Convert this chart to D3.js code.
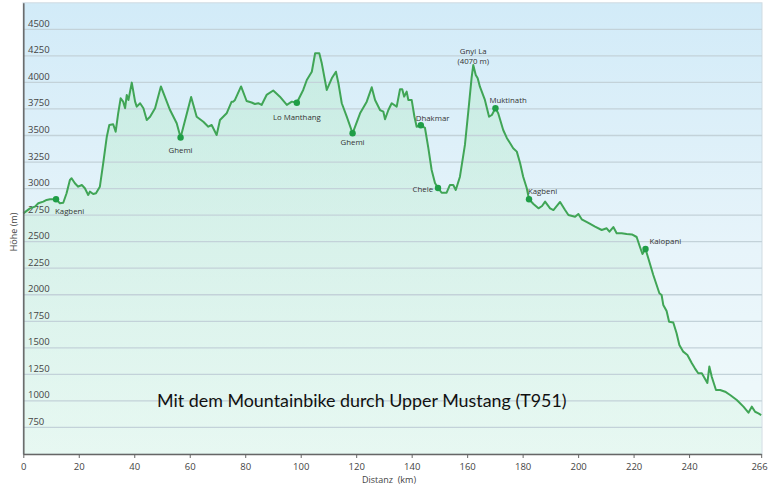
<!DOCTYPE html>
<html>
<head>
<meta charset="utf-8">
<script src="https://cdn.jsdelivr.net/npm/d3@7"></script>
<style>
  html, body { margin: 0; padding: 0; background: #fff; }
  svg text { font-family: "Open Sans", "Noto Sans", sans-serif; }
</style>
</head>
<body>
<div id="chart"></div>
<script>
// profile: distance (km) and elevation (m)
var distKm = [0, 2.4, 4.2, 5.4, 7.2, 8.4, 9.6, 11.8, 13.2, 14.4, 15.6, 16.8, 17.4, 18.6, 19.8, 21.1, 22.2, 23.4, 24.0, 25.2, 26.2, 27.6, 28.8, 30.1, 31.0, 32.4, 33.3, 34.2, 35.1, 36.0, 36.7, 37.3, 37.9, 39.1, 40.3, 40.9, 42.1, 43.3, 44.5, 45.7, 47.5, 49.6, 52.9, 55.3, 56.7, 60.5, 62.5, 64.9, 66.7, 67.9, 69.7, 70.9, 73.3, 75.1, 75.7, 76.3, 78.5, 80.5, 82.3, 83.5, 84.7, 85.9, 87.7, 90.1, 92.5, 95.0, 96.8, 98.6, 100.9, 102.2, 104.0, 105.2, 106.7, 107.6, 109.4, 111.2, 112.7, 113.6, 114.8, 116.6, 118.7, 121.4, 123.8, 125.6, 126.8, 128.6, 129.8, 130.4, 131.6, 132.8, 134.6, 135.8, 136.6, 137.3, 138.2, 138.8, 140.0, 141.0, 141.8, 143.3, 144.8, 146.0, 147.2, 148.4, 149.5, 150.8, 152.6, 153.8, 155.0, 155.9, 157.4, 159.2, 160.4, 161.6, 162.2, 163.1, 163.8, 164.6, 166.4, 167.9, 168.9, 170.2, 171.2, 173.0, 174.3, 175.5, 176.6, 177.9, 179.1, 180.2, 181.5, 182.3, 183.9, 185.7, 187.0, 188.1, 189.9, 191.1, 193.5, 195.3, 196.5, 198.9, 200.1, 201.3, 203.7, 206.1, 208.5, 210.3, 211.3, 212.7, 213.9, 215.7, 217.5, 219.4, 221.1, 222.3, 223.2, 224.3, 225.3, 227.1, 229.3, 230.1, 230.7, 231.9, 232.8, 234.3, 235.5, 236.5, 237.9, 239.4, 241.0, 242.1, 243.3, 244.6, 246.6, 247.3, 248.2, 249.7, 251.2, 253.0, 254.8, 257.2, 259.6, 261.4, 262.6, 263.8, 265.0, 266.0];
var elevM = [2767, 2814, 2830, 2862, 2877, 2893, 2899, 2899, 2862, 2867, 2956, 3081, 3097, 3050, 3018, 3034, 3003, 2940, 2971, 2949, 2956, 3018, 3238, 3489, 3599, 3606, 3536, 3709, 3851, 3819, 3757, 3882, 3835, 3998, 3819, 3772, 3804, 3757, 3646, 3677, 3757, 3962, 3740, 3615, 3481, 3863, 3677, 3630, 3583, 3599, 3505, 3646, 3709, 3819, 3819, 3835, 3962, 3825, 3811, 3797, 3804, 3788, 3882, 3924, 3866, 3788, 3819, 3809, 3929, 4023, 4101, 4275, 4275, 4180, 3929, 4039, 4101, 3992, 3804, 3677, 3521, 3709, 3819, 3954, 3835, 3740, 3724, 3653, 3740, 3804, 3772, 3936, 3936, 3866, 3913, 3835, 3835, 3677, 3583, 3596, 3571, 3383, 3175, 3053, 3006, 2961, 2961, 3034, 3034, 2987, 3112, 3411, 3722, 4042, 4164, 4070, 4039, 3960, 3835, 3677, 3693, 3757, 3709, 3552, 3477, 3427, 3380, 3348, 3238, 3112, 3003, 2899, 2855, 2814, 2836, 2877, 2814, 2798, 2874, 2798, 2751, 2735, 2761, 2711, 2676, 2641, 2610, 2626, 2594, 2638, 2579, 2579, 2572, 2568, 2544, 2450, 2384, 2431, 2343, 2186, 2014, 1998, 1904, 1847, 1746, 1739, 1637, 1527, 1464, 1433, 1354, 1307, 1260, 1260, 1169, 1324, 1225, 1103, 1103, 1087, 1056, 1009, 946, 889, 946, 898, 883, 867];

// waypoints
var placeNames = ["Kagbeni", "Ghemi", "Lo Manthang", "Ghemi", "Dhakmar", "Chele", "Muktinath", "Kagbeni", "Kalopani"];
var placeKm = [11.8, 56.7, 98.6, 118.7, 143.3, 149.5, 170.2, 182.3, 224.3];
var placeM = [2899, 3481, 3809, 3521, 3596, 3006, 3757, 2899, 2431];

var peakName = ["Gnyi La", "(4070 m)"];
var peakKm = 162.2;
var peakM = 4164;

var xTicks = [0, 20, 40, 60, 80, 100, 120, 140, 160, 180, 200, 220, 240, 266];
var yTicks = [750, 1000, 1250, 1500, 1750, 2000, 2250, 2500, 2750, 3000, 3250, 3500, 3750, 4000, 4250, 4500];

var title = "Mit dem Mountainbike durch Upper Mustang (T951)";
var xTitle = "Distanz  (km)";
var yTitle = "Höhe (m)";

// label placement for each waypoint: anchor, dx, dy
var labelPos = [
  ["start", -1, 15], ["middle", 0, 15], ["middle", 0, 17], ["middle", 0, 12],
  ["start", -5, -4], ["end", -5, 4], ["start", -6, -5], ["start", -1, -5], ["start", 4, -5]
];

var W = 768, H = 490;
var x = d3.scaleLinear().domain([0, 266]).range([23.3, 761.2]);
var y = d3.scaleLinear().domain([500, 4750]).range([454, 2.8]);

var svg = d3.select("#chart").append("svg")
  .attr("width", W).attr("height", H);

var defs = svg.append("defs");
var bg = defs.append("linearGradient").attr("id", "bg")
  .attr("x1", 0).attr("y1", 0).attr("x2", 0).attr("y2", 1);
bg.append("stop").attr("offset", "0%").attr("stop-color", "#d2ebf8");
bg.append("stop").attr("offset", "55%").attr("stop-color", "#e7f4fa");
bg.append("stop").attr("offset", "100%").attr("stop-color", "#f0fafa");

var fillG = defs.append("linearGradient").attr("id", "fillG")
  .attr("gradientUnits", "userSpaceOnUse")
  .attr("x1", 0).attr("y1", y(4300)).attr("x2", 0).attr("y2", y(500));
fillG.append("stop").attr("offset", "0%").attr("stop-color", "#b4eac9").attr("stop-opacity", 0.45);
fillG.append("stop").attr("offset", "100%").attr("stop-color", "#dcf6e8").attr("stop-opacity", 0.45);

// plot background
svg.append("rect")
  .attr("x", 23).attr("y", 2.8)
  .attr("width", 762 - 23).attr("height", 454 - 2.8)
  .attr("fill", "url(#bg)")
  .attr("stroke", "#cfdbe2").attr("stroke-width", 1);

var data = distKm.map(function (d, i) { return { km: d, m: elevM[i] }; });

// area under profile
var area = d3.area()
  .x(function (d) { return x(d.km); })
  .y0(y(500))
  .y1(function (d) { return y(d.m); });

svg.append("path")
  .datum(data)
  .attr("d", area)
  .attr("fill", "url(#fillG)");

// gridlines
svg.append("g").attr("class", "grid")
  .selectAll("line")
  .data(yTicks)
  .enter()
  .append("line")
  .attr("x1", 23).attr("x2", 762)
  .attr("y1", function (d) { return y(d); })
  .attr("y2", function (d) { return y(d); })
  .attr("stroke", "#c3d2d9")
  .attr("stroke-width", 1.3);

// y tick labels sit inside the plot, just above each gridline
svg.append("g")
  .selectAll("text")
  .data(yTicks)
  .enter()
  .append("text")
  .attr("x", 28)
  .attr("y", function (d) { return y(d) - 2.5; })
  .attr("font-size", "9.5px")
  .attr("fill", "#444")
  .text(function (d) { return d; });

// profile line
var line = d3.line()
  .x(function (d) { return x(d.km); })
  .y(function (d) { return y(d.m); });

svg.append("path")
  .datum(data)
  .attr("d", line)
  .attr("fill", "none")
  .attr("stroke", "#40a556")
  .attr("stroke-width", 2)
  .attr("stroke-linejoin", "round");

// waypoint markers and names
var places = placeNames.map(function (n, i) {
  return { name: n, km: placeKm[i], m: placeM[i], pos: labelPos[i] };
});

svg.append("g")
  .selectAll("circle")
  .data(places)
  .enter()
  .append("circle")
  .attr("cx", function (d) { return x(d.km); })
  .attr("cy", function (d) { return y(d.m); })
  .attr("r", 3.2)
  .attr("fill", "#1f9e47");

svg.append("g")
  .selectAll("text")
  .data(places)
  .enter()
  .append("text")
  .attr("x", function (d) { return x(d.km) + d.pos[1]; })
  .attr("y", function (d) { return y(d.m) + d.pos[2]; })
  .attr("text-anchor", function (d) { return d.pos[0]; })
  .attr("font-size", "7.8px")
  .attr("fill", "#333")
  .text(function (d) { return d.name; });

var peak = svg.append("text")
  .attr("text-anchor", "middle")
  .attr("font-size", "7.8px")
  .attr("fill", "#333");
peak.selectAll("tspan")
  .data(peakName)
  .enter()
  .append("tspan")
  .attr("x", x(peakKm))
  .attr("y", function (d, i) { return y(peakM) - 11 + i * 9.5; })
  .text(function (d) { return d; });

// axes
var xAxis = d3.axisBottom(x).tickValues(xTicks).tickSize(4).tickSizeOuter(0).tickPadding(5);
var gx = svg.append("g")
  .attr("transform", "translate(0," + y(500) + ")")
  .call(xAxis);
gx.select(".domain").attr("stroke", "#666").attr("stroke-width", 1.5);
gx.selectAll(".tick line").attr("stroke", "#666");
gx.selectAll(".tick text")
  .attr("font-size", "9.5px")
  .attr("font-family", "Open Sans, sans-serif")
  .attr("fill", "#444");
// last label (266) is pulled in from the right edge
gx.selectAll(".tick text")
  .filter(function (d) { return d === 266; })
  .attr("text-anchor", "end")
  .attr("dx", "6");

var yAxis = d3.axisLeft(y).tickValues([]).tickSizeOuter(0);
var gy = svg.append("g")
  .attr("transform", "translate(23.3,0)")
  .call(yAxis);
gy.select(".domain").attr("stroke", "#666").attr("stroke-width", 1.5);

// axis titles
svg.append("text")
  .attr("x", 389).attr("y", 483)
  .attr("text-anchor", "middle")
  .attr("font-size", "9px")
  .attr("fill", "#444")
  .style("white-space", "pre")
  .text(xTitle);

svg.append("text")
  .attr("transform", "translate(17,232) rotate(-90)")
  .attr("text-anchor", "middle")
  .attr("font-size", "9px")
  .attr("fill", "#444")
  .text(yTitle);

// chart title inside the plot
var t = svg.append("text")
  .attr("x", 157).attr("y", 406.5)
  .attr("font-size", "19px")
  .attr("fill", "#111")
  .style("font-family", "Lato, 'Open Sans', sans-serif")
  .text(title);
var tw = t.node().getComputedTextLength();
t.attr("font-size", (19 * 410 / tw).toFixed(2) + "px");
</script>
</body>
</html>
